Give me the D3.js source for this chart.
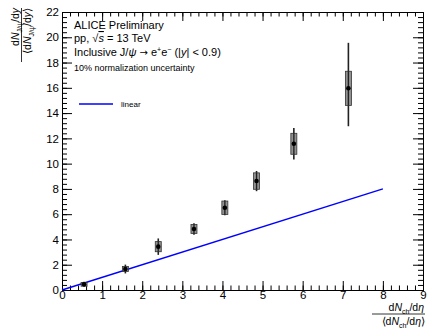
<!DOCTYPE html>
<html>
<head>
<meta charset="utf-8">
<script src="https://cdn.jsdelivr.net/npm/d3@7"></script>
<style>
  body { margin: 0; background: #fff; }
  svg text { font-family: "Liberation Sans", Arial, sans-serif; fill: #000; }
</style>
</head>
<body>
<svg id="chart" width="427" height="333"></svg>
<script>
// multiplicity bins (self-normalised)
var multX = [0.55, 1.58, 2.40, 3.29, 4.06, 4.85, 5.78, 7.14];
var yieldY = [0.45, 1.66, 3.43, 4.83, 6.51, 8.62, 11.57, 15.96];
var statUp = [0.2, 0.35, 0.65, 0.45, 0.6, 0.8, 1.25, 3.6];
var statLow = [0.2, 0.35, 0.65, 0.45, 0.6, 0.8, 1.25, 3.0];
var sysErr = [0.15, 0.2, 0.4, 0.35, 0.53, 0.65, 0.83, 1.35];
// linear reference y = x
var linearX = [0, 8];
var linearY = [0, 8];

var xTicks = [0, 1, 2, 3, 4, 5, 6, 7, 8, 9];
var yTicks = [0, 2, 4, 6, 8, 10, 12, 14, 16, 18, 20, 22];

var svg = d3.select('#chart');
var margin = {top: 12, right: 4, bottom: 43, left: 62};
var width = 427 - margin.left - margin.right;
var height = 333 - margin.top - margin.bottom;

var x = d3.scaleLinear().domain([0, 9]).range([0, width]);
var y = d3.scaleLinear().domain([0, 22]).range([height, 0]);

var g = svg.append('g')
    .attr('transform', 'translate(' + margin.left + ',' + margin.top + ')');

var xMinor = d3.range(0, 9.001, 0.2);
var yMinor = d3.range(0, 22.001, 0.4);

function styleAxis(sel) {
  sel.select('.domain').attr('stroke', '#000').attr('stroke-width', 1);
  sel.selectAll('.tick line').attr('stroke', '#000').attr('stroke-width', 1);
  sel.selectAll('text').style('font-size', '11.5px')
      .style('font-family', '"Liberation Sans", Arial, sans-serif');
}

// minor ticks on all sides
g.append('g').attr('transform', 'translate(0,' + height + ')')
    .call(d3.axisBottom(x).tickValues(xMinor).tickSize(-4.5).tickFormat(''))
    .call(styleAxis);
g.append('g')
    .call(d3.axisTop(x).tickValues(xMinor).tickSize(-4.5).tickFormat(''))
    .call(styleAxis);
g.append('g')
    .call(d3.axisLeft(y).tickValues(yMinor).tickSize(-5).tickFormat(''))
    .call(styleAxis);
g.append('g').attr('transform', 'translate(' + width + ',0)')
    .call(d3.axisRight(y).tickValues(yMinor).tickSize(-5).tickFormat(''))
    .call(styleAxis);

// major ticks
g.append('g').attr('transform', 'translate(0,' + height + ')')
    .call(d3.axisBottom(x).tickValues(xTicks).tickSize(-9).tickPadding(1).tickFormat(d3.format('d')))
    .call(styleAxis);
g.append('g')
    .call(d3.axisTop(x).tickValues(xTicks).tickSize(-9).tickFormat(''))
    .call(styleAxis);
g.append('g')
    .call(d3.axisLeft(y).tickValues(yTicks).tickSize(-10).tickPadding(3).tickFormat(d3.format('d')))
    .call(styleAxis);
g.append('g').attr('transform', 'translate(' + width + ',0)')
    .call(d3.axisRight(y).tickValues(yTicks).tickSize(-10).tickFormat(''))
    .call(styleAxis);

// linear line
var line = d3.line()
    .x(function(d, i) { return x(linearX[i]); })
    .y(function(d) { return y(d); });
g.append('path')
    .datum(linearY)
    .attr('d', line)
    .attr('fill', 'none')
    .attr('stroke', '#0000ff')
    .attr('stroke-width', 1.4);

// data points
var pts = g.append('g').selectAll('g.pt')
    .data(multX)
    .enter().append('g').attr('class', 'pt');

pts.append('line')
    .attr('x1', function(d) { return x(d); })
    .attr('x2', function(d) { return x(d); })
    .attr('y1', function(d, i) { return y(yieldY[i] + statUp[i]); })
    .attr('y2', function(d, i) { return y(yieldY[i] - statLow[i]); })
    .attr('stroke', '#222').attr('stroke-width', 1.6);

pts.append('rect')
    .attr('x', function(d) { return x(d) - 3; })
    .attr('width', 6)
    .attr('y', function(d, i) { return y(yieldY[i] + sysErr[i]); })
    .attr('height', function(d, i) { return y(yieldY[i] - sysErr[i]) - y(yieldY[i] + sysErr[i]); })
    .attr('fill', '#7f7f7f').attr('fill-opacity', 0.85)
    .attr('stroke', '#333').attr('stroke-width', 0.8);

pts.append('line')
    .attr('x1', function(d) { return x(d); })
    .attr('x2', function(d) { return x(d); })
    .attr('y1', function(d, i) { return y(yieldY[i] + sysErr[i]); })
    .attr('y2', function(d, i) { return y(yieldY[i] - sysErr[i]); })
    .attr('stroke', '#222').attr('stroke-width', 1.2);

pts.append('circle')
    .attr('cx', function(d) { return x(d); })
    .attr('cy', function(d, i) { return y(yieldY[i]); })
    .attr('r', 2.3)
    .attr('fill', '#000');

// annotation text
var ann = svg.append('g');
ann.append('text').attr('x', 74).attr('y', 29).style('font-size', '11px').text('ALICE Preliminary');
var t2 = ann.append('text').attr('x', 74).attr('y', 42).style('font-size', '11px');
t2.append('tspan').text('pp, \u221A');
t2.append('tspan').style('font-style', 'italic').style('text-decoration', 'overline').text('s');
t2.append('tspan').text(' = 13 TeV');
var t3 = ann.append('text').attr('x', 74).attr('y', 56).style('font-size', '11px');
t3.append('tspan').text('Inclusive J/');
t3.append('tspan').style('font-style', 'italic').text('\u03C8');
t3.append('tspan').text(' ');
t3.append('tspan').style('font-family', '"DejaVu Sans", sans-serif').style('font-size', '10px').text('\u2192');
t3.append('tspan').text(' e');
t3.append('tspan').attr('dy', -4).style('font-size', '7px').text('+');
t3.append('tspan').attr('dy', 4).text('e');
t3.append('tspan').attr('dy', -4).style('font-size', '7px').text('\u2212');
t3.append('tspan').attr('dy', 4).text(' (|');
t3.append('tspan').style('font-style', 'italic').text('y');
t3.append('tspan').text('| < 0.9)');
ann.append('text').attr('x', 74).attr('y', 71).style('font-size', '9px').text('10% normalization uncertainty');

// legend
ann.append('line').attr('x1', 79).attr('x2', 113).attr('y1', 104).attr('y2', 104)
    .attr('stroke', '#0000ff').attr('stroke-width', 1.4);
ann.append('text').attr('x', 121).attr('y', 107).style('font-size', '8px').text('linear');

// y axis title (rotated fraction)
var yl = svg.append('g').attr('transform', 'rotate(-90)');
var yn = yl.append('text').attr('x', -8).attr('y', 19).attr('text-anchor', 'end').style('font-size', '10.5px');
yn.append('tspan').text('d');
yn.append('tspan').style('font-style', 'italic').text('N');
yn.append('tspan').attr('dy', 2.5).style('font-size', '7px').text('J/\u03C8');
yn.append('tspan').attr('dy', -2.5).text('/d');
yn.append('tspan').style('font-style', 'italic').text('y');
yl.append('line').attr('x1', -8).attr('x2', -62).attr('y1', 21.5).attr('y2', 21.5)
    .attr('stroke', '#000').attr('stroke-width', 0.8);
var yd = yl.append('text').attr('x', -8).attr('y', 31).attr('text-anchor', 'end').style('font-size', '10.5px');
yd.append('tspan').text('\u27E8d');
yd.append('tspan').style('font-style', 'italic').text('N');
yd.append('tspan').attr('dy', 2.5).style('font-size', '7px').text('J/\u03C8');
yd.append('tspan').attr('dy', -2.5).text('/d');
yd.append('tspan').style('font-style', 'italic').text('y');
yd.append('tspan').text('\u27E9');

// x axis title (fraction)
var xn = svg.append('text').attr('x', 424).attr('y', 311).attr('text-anchor', 'end').style('font-size', '10.5px');
xn.append('tspan').text('d');
xn.append('tspan').style('font-style', 'italic').text('N');
xn.append('tspan').attr('dy', 2.5).style('font-size', '7px').text('ch');
xn.append('tspan').attr('dy', -2.5).text('/d');
xn.append('tspan').style('font-style', 'italic').text('\u03B7');
svg.append('line').attr('x1', 372).attr('x2', 425).attr('y1', 314).attr('y2', 314)
    .attr('stroke', '#000').attr('stroke-width', 0.8);
var xd = svg.append('text').attr('x', 425).attr('y', 325).attr('text-anchor', 'end').style('font-size', '10.5px');
xd.append('tspan').text('\u27E8d');
xd.append('tspan').style('font-style', 'italic').text('N');
xd.append('tspan').attr('dy', 2.5).style('font-size', '7px').text('ch');
xd.append('tspan').attr('dy', -2.5).text('/d');
xd.append('tspan').style('font-style', 'italic').text('\u03B7');
xd.append('tspan').text('\u27E9');
</script>
</body>
</html>
